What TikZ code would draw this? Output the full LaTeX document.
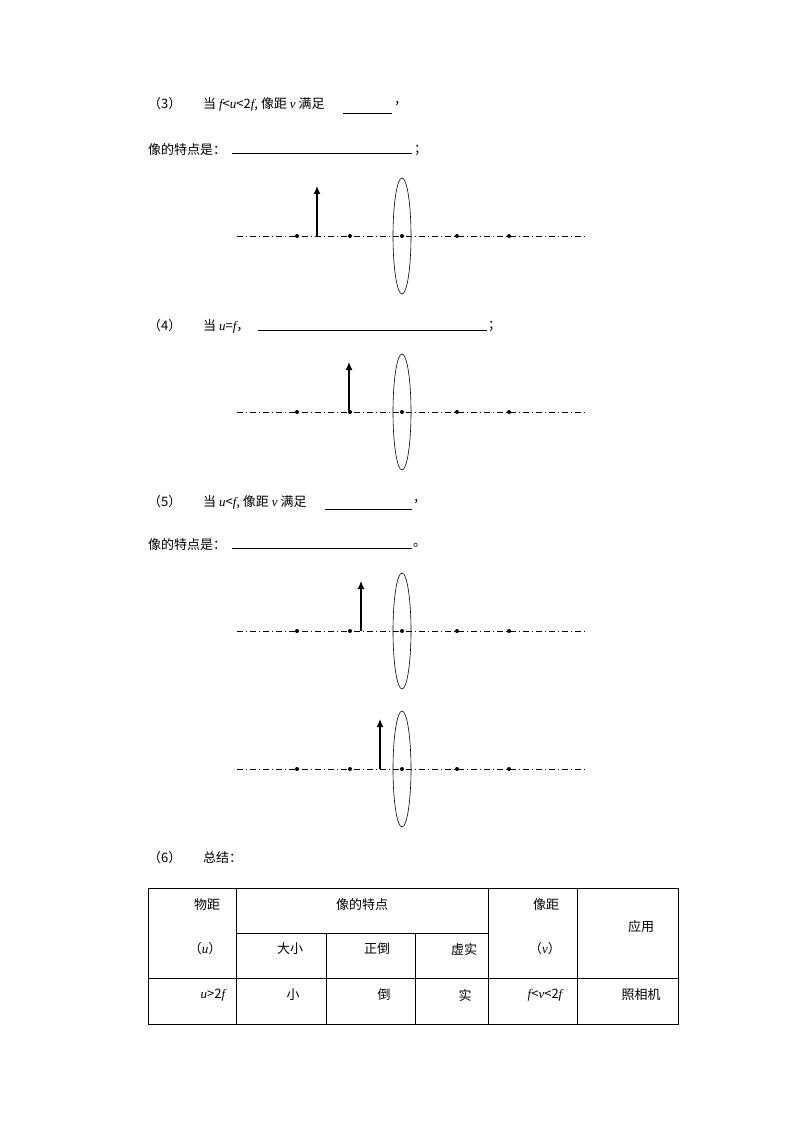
\documentclass[tikz,border=0pt]{standalone}
\usepackage{fontspec}
\setmainfont{Liberation Serif}
\newfontfamily\cjk{Noto Sans CJK SC}
\newcommand{\li}[1]{{\rmfamily\itshape #1}}
\usetikzlibrary{arrows.meta}
\tikzset{
 ax/.style={dash pattern=on 6pt off 3pt on 1pt off 3pt, line width=0.5pt},
 dotp/.style={circle, fill, inner sep=0pt, minimum size=4pt},
 obj/.style={-{Latex[length=8pt,width=7pt]}, line width=1.3pt},
 txt/.style={anchor=west, inner sep=0pt, font=\cjk\fontsize{13pt}{15pt}\selectfont},
 ctxt/.style={inner sep=0pt, font=\cjk\fontsize{13pt}{15pt}\selectfont},
 ul/.style={line width=0.7pt},
 tb/.style={line width=0.7pt}
}
\newcommand{\optrow}[3]{%
 \coordinate (L#1) at (237,#2); \coordinate (R#1) at (585,#2);
 \draw[ax] (L#1) -- (R#1);
 \draw[line width=0.6pt] (402,#2) ellipse (9 and 58);
 \foreach \x/\n in {297/a,350/b,402/c,457/d,509/e}{\node[dotp] (#1\n) at (\x,#2) {};}
 \coordinate (ob#1) at (#3,#2);
 \coordinate (ot#1) at (#3,#2-50);
 \draw[obj] (ob#1) -- (ot#1);
}
\begin{document}
\begin{tikzpicture}[x=1pt,y=-1pt]
\useasboundingbox (0,0) rectangle (794,1123);
\node[txt] (t3) at (148,104) {（3）};
\node[txt] (t3b) at (203,104) {当 \li{f}<\li{u}<2\li{f}, 像距 \li{v} 满足};
\draw[ul] (343,113) -- (392,113);
\node[txt] (t3e) at (394,104) {，};
\node[txt] (t3c) at (148,150) {像的特点是：};
\draw[ul] (232,153) -- (412,153);
\node[txt] (t3f) at (414,150) {；};
\optrow{A}{236}{317}
\node[txt] (t4) at (148,326) {（4）};
\node[txt] (t4b) at (203,326) {当 \li{u}=\li{f}，};
\draw[ul] (258,330) -- (487,330);
\node[txt] (t4e) at (488,326) {；};
\optrow{B}{412}{349}
\node[txt] (t5) at (148,502) {（5）};
\node[txt] (t5b) at (203,502) {当 \li{u}<\li{f}, 像距 \li{v} 满足};
\draw[ul] (325,509) -- (412,509);
\node[txt] (t5e) at (413,502) {，};
\node[txt] (t5c) at (148,545) {像的特点是：};
\draw[ul] (232,548) -- (412,548);
\node[txt] (t5f) at (413,545) {。};
\optrow{C}{631}{361}
\optrow{D}{769}{380}
\node[txt] (t6) at (148,858) {（6）};
\node[txt] (t6b) at (203,858) {总结：};
% table
\draw[tb] (148,888) rectangle (678,1024);
\draw[tb] (148,978) -- (678,978);
\draw[tb] (236,933) -- (488,933);
\foreach \x in {236,488,577}{\draw[tb] (\x,888) -- (\x,1024);}
\foreach \x in {326,415}{\draw[tb] (\x,933) -- (\x,1024);}
\node[ctxt] (h1) at (207,905) {物距};
\node[ctxt] (h1b) at (205,949) {（\li{u}）};
\node[ctxt] (h2) at (362,905) {像的特点};
\node[ctxt] (h3) at (290,949) {大小};
\node[ctxt] (h4) at (377,949) {正倒};
\node[ctxt] (h5) at (464,949) {虚实};
\node[ctxt] (h6) at (546,905) {像距};
\node[ctxt] (h6b) at (545,949) {（\li{v}）};
\node[ctxt] (h7) at (641,927) {应用};
\node[ctxt] (r1) at (213,995) {\li{u}>2\li{f}};
\node[ctxt] (r2) at (293,995) {小};
\node[ctxt] (r3) at (384,995) {倒};
\node[ctxt] (r4) at (465,995) {实};
\node[ctxt] (r5) at (545,995) {\li{f}<\li{v}<2\li{f}};
\node[ctxt] (r6) at (641,995) {照相机};
\end{tikzpicture}
\end{document}
